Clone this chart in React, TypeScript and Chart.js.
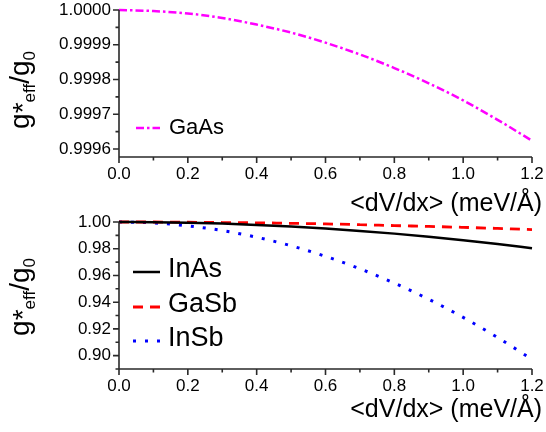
import { useEffect, useRef } from "react";
import { Chart, registerables } from "chart.js";

Chart.register(...registerables);

const FONT = "'Liberation Sans', Arial, Helvetica, sans-serif";

// x positions (meV/Å)
const xValues = [0, 0.1, 0.2, 0.3, 0.4, 0.5, 0.6, 0.7, 0.8, 0.9, 1.0, 1.1, 1.2];

// top panel
const gaAsValues = [1.0, 0.999997, 0.99999, 0.999977, 0.999958, 0.999935, 0.999906, 0.999872, 0.999833, 0.999789, 0.99974, 0.999684, 0.999624];

// bottom panel
const inAsValues = [1.0, 0.9999, 0.9995, 0.9988, 0.9978, 0.9966, 0.9951, 0.9933, 0.9913, 0.989, 0.9864, 0.9836, 0.9804];
const gaSbValues = [1.0, 1.0, 0.9998, 0.9996, 0.9994, 0.999, 0.9986, 0.998, 0.9973, 0.9967, 0.996, 0.9952, 0.9943];
const inSbValues = [1.0, 0.9993, 0.9971, 0.9936, 0.9886, 0.9822, 0.9743, 0.965, 0.9543, 0.9422, 0.9286, 0.9136, 0.8972];

// ticks
const xTickValues = [0, 0.2, 0.4, 0.6, 0.8, 1.0, 1.2];
const xMinorTickValues = [0.1, 0.3, 0.5, 0.7, 0.9, 1.1];
const topYTicks = [0.9996, 0.9997, 0.9998, 0.9999, 1.0];
const topYMinorTicks = [0.99965, 0.99975, 0.99985, 0.99995];
const bottomYTicks = [0.9, 0.92, 0.94, 0.96, 0.98, 1.0];
const bottomYMinorTicks = [0.89, 0.91, 0.93, 0.95, 0.97, 0.99];

const xTitle = "<dV/dx> (meV/Å)";

type Series = { label: string; values: number[]; color: string; dash: number[]; width: number };

type Panel = {
  series: Series[];
  yMin: number;
  yMax: number;
  yTicks: number[];
  yMinor: number[];
  yDecimals: number;
  padTop: number;
  padBottom: number;
  legendX1: number;
  legendX2: number;
  legendTextX: number;
  legendLineYs: number[];
  legendTextYs: number[];
  legendFont: number;
  titleBaseline: number;
  yTitleCenter: number;
};

const topPanel: Panel = {
  series: [{ label: "GaAs", values: gaAsValues, color: "#ff00ff", dash: [8, 3, 2.5, 3], width: 2.5 }],
  yMin: 0.999577,
  yMax: 1.0,
  yTicks: topYTicks,
  yMinor: topYMinorTicks,
  yDecimals: 4,
  padTop: 10,
  padBottom: 215,
  legendX1: 136,
  legendX2: 160,
  legendTextX: 169,
  legendLineYs: [128],
  legendTextYs: [127.5],
  legendFont: 22,
  titleBaseline: 211,
  yTitleCenter: 90,
};

const bottomPanel: Panel = {
  series: [
    { label: "InAs", values: inAsValues, color: "#000000", dash: [], width: 2.5 },
    { label: "GaSb", values: gaSbValues, color: "#ff0000", dash: [10, 7], width: 2.8 },
    { label: "InSb", values: inSbValues, color: "#0000ff", dash: [3, 9], width: 3 },
  ],
  yMin: 0.89,
  yMax: 1.0,
  yTicks: bottomYTicks,
  yMinor: bottomYMinorTicks,
  yDecimals: 2,
  padTop: 222,
  padBottom: 3,
  legendX1: 133,
  legendX2: 160,
  legendTextX: 168,
  legendLineYs: [272, 307, 341],
  legendTextYs: [270, 305, 339],
  legendFont: 27,
  titleBaseline: 417,
  yTitleCenter: 297,
};

function drawYTitle(ctx: CanvasRenderingContext2D, cx: number, cy: number) {
  const parts = [
    { t: "g", size: 28, dy: 0 },
    { t: "*", size: 28, dy: 3 },
    { t: "eff", size: 17, dy: 6 },
    { t: "/", size: 28, dy: 0 },
    { t: "g", size: 28, dy: 0 },
    { t: "0", size: 17, dy: 6 },
  ];
  ctx.save();
  ctx.translate(cx, cy);
  ctx.rotate(-Math.PI / 2);
  ctx.fillStyle = "#000";
  ctx.textBaseline = "alphabetic";
  ctx.textAlign = "left";
  let total = 0;
  const widths = parts.map((p) => {
    ctx.font = `${p.size}px ${FONT}`;
    const w = ctx.measureText(p.t).width;
    total += w;
    return w;
  });
  let x = -total / 2;
  parts.forEach((p, i) => {
    ctx.font = `${p.size}px ${FONT}`;
    ctx.fillText(p.t, x, p.dy);
    x += widths[i];
  });
  ctx.restore();
}

function buildChart(canvas: HTMLCanvasElement, panel: Panel) {
  const decor = {
    id: "decor",
    afterDraw(chart: any) {
      const ctx: CanvasRenderingContext2D = chart.ctx;
      const { left, right, top, bottom } = chart.chartArea;
      const xs = chart.scales.x;
      const ys = chart.scales.y;
      ctx.save();
      ctx.strokeStyle = "#2a2a2a";
      ctx.lineWidth = 1.6;
      ctx.setLineDash([]);
      ctx.beginPath();
      ctx.moveTo(left, top);
      ctx.lineTo(left, bottom);
      ctx.lineTo(right, bottom);
      for (const v of xTickValues) {
        const p = xs.getPixelForValue(v);
        ctx.moveTo(p, bottom);
        ctx.lineTo(p, bottom + 6);
      }
      for (const v of xMinorTickValues) {
        const p = xs.getPixelForValue(v);
        ctx.moveTo(p, bottom);
        ctx.lineTo(p, bottom + 3.5);
      }
      for (const v of panel.yTicks) {
        const p = ys.getPixelForValue(v);
        ctx.moveTo(left, p);
        ctx.lineTo(left - 6, p);
      }
      for (const v of panel.yMinor) {
        const p = ys.getPixelForValue(v);
        ctx.moveTo(left, p);
        ctx.lineTo(left - 3.5, p);
      }
      ctx.stroke();

      // legend
      panel.series.forEach((s, i) => {
        ctx.save();
        ctx.strokeStyle = s.color;
        ctx.lineWidth = s.width;
        ctx.setLineDash(s.dash);
        ctx.lineCap = "butt";
        ctx.beginPath();
        ctx.moveTo(panel.legendX1, panel.legendLineYs[i]);
        ctx.lineTo(panel.legendX2, panel.legendLineYs[i]);
        ctx.stroke();
        ctx.restore();
        ctx.fillStyle = "#000";
        ctx.font = `${panel.legendFont}px ${FONT}`;
        ctx.textAlign = "left";
        ctx.textBaseline = "middle";
        ctx.fillText(s.label, panel.legendTextX, panel.legendTextYs[i]);
      });

      // x title
      ctx.fillStyle = "#000";
      ctx.font = `25px ${FONT}`;
      ctx.textAlign = "right";
      ctx.textBaseline = "alphabetic";
      ctx.fillText(xTitle, 542, panel.titleBaseline);
      ctx.restore();

      drawYTitle(ctx, 29, panel.yTitleCenter);
    },
  };

  return new Chart(canvas, {
    type: "line",
    data: {
      datasets: panel.series.map((s) => ({
        label: s.label,
        data: xValues.map((x, i) => ({ x, y: s.values[i] })),
        borderColor: s.color,
        borderWidth: s.width,
        borderDash: s.dash,
        borderCapStyle: "butt",
        pointRadius: 0,
        fill: false,
        clip: false,
        cubicInterpolationMode: "monotone",
      })),
    },
    options: {
      animation: false,
      responsive: false,
      devicePixelRatio: 1,
      layout: { padding: { left: 0, right: 14, top: panel.padTop, bottom: panel.padBottom } },
      plugins: { legend: { display: false }, tooltip: { enabled: false }, title: { display: false } },
      scales: {
        x: {
          type: "linear",
          min: 0,
          max: 1.2,
          grid: { display: false, drawTicks: false },
          border: { display: false },
          ticks: {
            padding: 8.5,
            color: "#000",
            maxRotation: 0,
            autoSkip: false,
            font: { family: FONT, size: 17, lineHeight: 1 },
            callback: (v: any) => Number(v).toFixed(1),
          },
          afterBuildTicks: (s: any) => {
            s.ticks = xTickValues.map((v) => ({ value: v }));
          },
          afterFit: (s: any) => {
            s.height = 60;
            s.paddingLeft = 0;
            s.paddingRight = 0;
          },
        },
        y: {
          type: "linear",
          min: panel.yMin,
          max: panel.yMax,
          grid: { display: false, drawTicks: false },
          border: { display: false },
          ticks: {
            padding: 8,
            color: "#000",
            autoSkip: false,
            font: { family: FONT, size: 17, lineHeight: 1 },
            callback: (v: any) => Number(v).toFixed(panel.yDecimals),
          },
          afterBuildTicks: (s: any) => {
            s.ticks = panel.yTicks.map((v) => ({ value: v }));
          },
          afterFit: (s: any) => {
            s.width = 119;
            s.paddingTop = 0;
            s.paddingBottom = 0;
          },
        },
      },
    } as any,
    plugins: [decor],
  } as any);
}

export default function App() {
  const topRef = useRef<HTMLCanvasElement>(null);
  const bottomRef = useRef<HTMLCanvasElement>(null);

  useEffect(() => {
    const c1 = buildChart(topRef.current!, topPanel);
    const c2 = buildChart(bottomRef.current!, bottomPanel);
    return () => {
      c1.destroy();
      c2.destroy();
    };
  }, []);

  const canvasStyle: any = { position: "absolute", left: 0, top: 0, width: 546, height: 432 };
  return (
    <div style={{ position: "absolute", left: 0, top: 0, width: 546, height: 432, background: "#fff" }}>
      <canvas ref={topRef} width={546} height={432} style={canvasStyle} />
      <canvas ref={bottomRef} width={546} height={432} style={canvasStyle} />
    </div>
  );
}
